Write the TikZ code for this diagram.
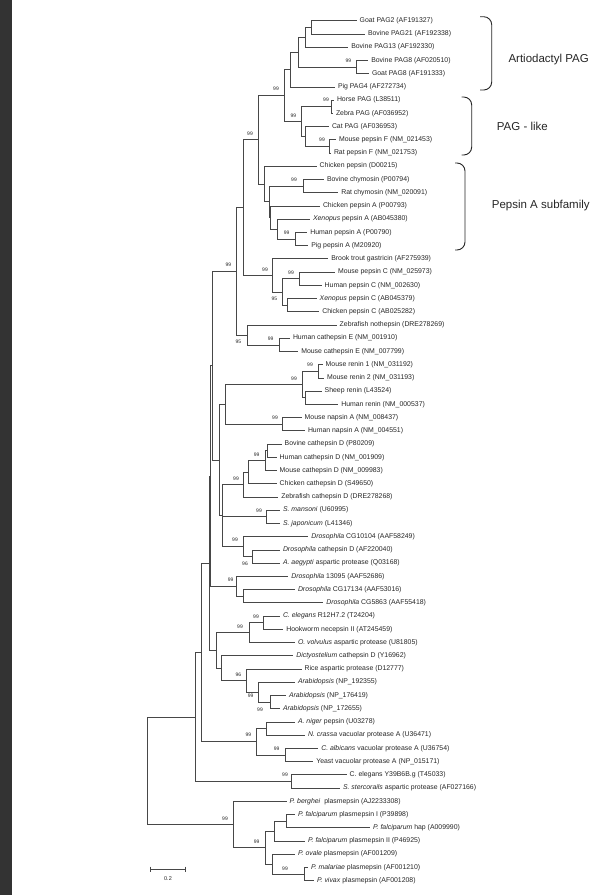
\documentclass[tikz,border=0pt]{standalone}
\usepackage{fontspec}
\setmainfont{Liberation Sans}

\tikzset{
  leaf/.style={anchor=west, inner xsep=2.8pt, inner ysep=0pt, font=\fontsize{6.9}{8}\selectfont, text=black!85},
  boot/.style={inner sep=0pt, font=\fontsize{5}{5.5}\selectfont, text=black!85},
  clade/.style={anchor=west, inner sep=0pt, font=\fontsize{11.5}{13}\selectfont, text=black!85},
  branch/.style={line width=0.8pt, draw=black!72},
  bracket/.style={line width=0.9pt, draw=black!85, rounded corners=8pt},
}

\begin{document}
\begin{tikzpicture}[x=1pt, y=-1pt]
\useasboundingbox (0,0) rectangle (603,895);
\fill[black!80] (0,0) rectangle (12,895);

\node[leaf] (gpag2) at (356.7,20.7) {Goat PAG2 (AF191327)};
\node[leaf] (bpag21) at (365,33.9) {Bovine PAG21 (AF192338)};
\node[leaf] (bpag13) at (348.3,47.2) {Bovine PAG13 (AF192330)};
\node[leaf] (bpag8) at (368.3,60.4) {Bovine PAG8 (AF020510)};
\node[leaf] (gpag8) at (369,73.6) {Goat PAG8 (AF191333)};
\node[leaf] (ppag4) at (335,86.9) {Pig PAG4 (AF272734)};
\node[leaf] (hpag) at (334,100.1) {Horse PAG (L38511)};
\node[leaf] (zpag) at (333,113.3) {Zebra PAG (AF036952)};
\node[leaf] (cpag) at (329,126.5) {Cat PAG (AF036953)};
\node[leaf] (mpepf) at (336,139.8) {Mouse pepsin F (NM\_021453)};
\node[leaf] (rpepf) at (331,153.0) {Rat pepsin F (NM\_021753)};
\node[leaf] (cpep) at (316.7,166.2) {Chicken pepsin (D00215)};
\node[leaf] (bchym) at (324,179.5) {Bovine chymosin (P00794)};
\node[leaf] (rchym) at (338.3,192.7) {Rat chymosin (NM\_020091)};
\node[leaf] (cpepa) at (320,205.9) {Chicken pepsin A (P00793)};
\node[leaf] (xpepa) at (310,219.2) {\textit{Xenopus} pepsin A (AB045380)};
\node[leaf] (hpepa) at (307.3,232.4) {Human pepsin A (P00790)};
\node[leaf] (ppepa) at (308.3,245.6) {Pig pepsin A (M20920)};
\node[leaf] (btgas) at (328.3,258.8) {Brook trout gastricin (AF275939)};
\node[leaf] (mpepc) at (335,272.1) {Mouse pepsin C (NM\_025973)};
\node[leaf] (hpepc) at (321.7,285.3) {Human pepsin C (NM\_002630)};
\node[leaf] (xpepc) at (316.7,298.5) {\textit{Xenopus} pepsin C (AB045379)};
\node[leaf] (cpepc) at (319.3,311.8) {Chicken pepsin C (AB025282)};
\node[leaf] (znoth) at (336.7,325.0) {Zebrafish nothepsin (DRE278269)};
\node[leaf] (hcate) at (290,338.2) {Human cathepsin E (NM\_001910)};
\node[leaf] (mcate) at (298.3,351.5) {Mouse cathepsin E (NM\_007799)};
\node[leaf] (mren1) at (322.7,364.7) {Mouse renin 1 (NM\_031192)};
\node[leaf] (mren2) at (324,377.9) {Mouse renin 2 (NM\_031193)};
\node[leaf] (sren) at (321.7,391.1) {Sheep renin (L43524)};
\node[leaf] (hren) at (338.3,404.4) {Human renin (NM\_000537)};
\node[leaf] (mnap) at (301.7,417.6) {Mouse napsin A (NM\_008437)};
\node[leaf] (hnap) at (305,430.8) {Human napsin A (NM\_004551)};
\node[leaf] (bcatd) at (281.7,444.1) {Bovine cathepsin D (P80209)};
\node[leaf] (hcatd) at (276.7,457.3) {Human cathepsin D (NM\_001909)};
\node[leaf] (mcatd) at (276.7,470.5) {Mouse cathepsin D (NM\_009983)};
\node[leaf] (ccatd) at (276.7,483.8) {Chicken cathepsin D (S49650)};
\node[leaf] (zcatd) at (278.3,497.0) {Zebrafish cathepsin D (DRE278268)};
\node[leaf] (sman) at (280,510.2) {\textit{S. mansoni} (U60995)};
\node[leaf] (sjap) at (280,523.4) {\textit{S. japonicum} (L41346)};
\node[leaf] (dcga) at (308.3,536.7) {\textit{Drosophila} CG10104 (AAF58249)};
\node[leaf] (dcatd) at (280,549.9) {\textit{Drosophila} cathepsin D (AF220040)};
\node[leaf] (aaeg) at (280,563.1) {\textit{A. aegypti} aspartic protease (Q03168)};
\node[leaf] (d13095) at (288.3,576.4) {\textit{Drosophila} 13095 (AAF52686)};
\node[leaf] (dcgb) at (295,589.6) {\textit{Drosophila} CG17134 (AAF53016)};
\node[leaf] (dcgc) at (323.3,602.8) {\textit{Drosophila} CG5863 (AAF55418)};
\node[leaf] (celr) at (280,616.1) {\textit{C. elegans} R12H7.2 (T24204)};
\node[leaf] (hookw) at (283.3,629.3) {Hookworm necepsin II (AT245459)};
\node[leaf] (ovolv) at (295,642.5) {\textit{O. volvulus} aspartic protease (U81805)};
\node[leaf] (dicty) at (293.3,655.7) {\textit{Dictyostelium} cathepsin D (Y16962)};
\node[leaf] (rice) at (301.7,669.0) {Rice aspartic protease (D12777)};
\node[leaf] (arab1) at (295,682.2) {\textit{Arabidopsis} (NP\_192355)};
\node[leaf] (arab2) at (286,695.4) {\textit{Arabidopsis} (NP\_176419)};
\node[leaf] (arab3) at (280,708.7) {\textit{Arabidopsis} (NP\_172655)};
\node[leaf] (aniger) at (295,721.9) {\textit{A. niger} pepsin (U03278)};
\node[leaf] (ncras) at (305,735.1) {\textit{N. crassa} vacuolar protease A (U36471)};
\node[leaf] (calb) at (318.3,748.4) {\textit{C. albicans} vacuolar protease A (U36754)};
\node[leaf] (yeast) at (313.3,761.6) {Yeast vacuolar protease A (NP\_015171)};
\node[leaf] (cely) at (346.7,774.8) {C. elegans Y39B6B.g (T45033)};
\node[leaf] (sster) at (340,788.0) {\textit{S. stercorails} aspartic protease (AF027166)};
\node[leaf] (pberg) at (286.7,801.3) {\textit{P. berghei}\ \ plasmepsin (AJ2233308)};
\node[leaf] (pfal1) at (295,814.5) {\textit{P. falciparum} plasmepsin I (P39898)};
\node[leaf] (pfhap) at (370,827.7) {\textit{P. falciparum} hap (A009990)};
\node[leaf] (pfal2) at (305,841.0) {\textit{P. falciparum} plasmepsin II (P46925)};
\node[leaf] (povale) at (295,854.2) {\textit{P. ovale} plasmepsin (AF001209)};
\node[leaf] (pmal) at (308,867.4) {\textit{P. malariae} plasmepsin (AF001210)};
\node[leaf] (pviv) at (314,880.7) {\textit{P. vivax} plasmepsin (AF001208)};

\coordinate (a1) at (311.7,27.3);
\coordinate (a2) at (305,37.3);
\coordinate (a3) at (356.7,67.0);
\coordinate (a4) at (298.3,52.1);
\coordinate (a5) at (290,69.5);
\coordinate (p1) at (331,106.7);
\coordinate (p2) at (329.5,146.4);
\coordinate (p3) at (305.7,136.5);
\coordinate (p4) at (301.7,121.6);
\coordinate (p5) at (284,95.6);
\coordinate (s1) at (303.3,186.1);
\coordinate (s2) at (295,239.0);
\coordinate (s3) at (277.3,229.1);
\coordinate (s4) at (270,217.5);
\coordinate (s5) at (269,201.8);
\coordinate (s6) at (264,184.0);
\coordinate (s7) at (258.3,139.8);
\coordinate (c1) at (299,278.7);
\coordinate (c2) at (287.3,305.2);
\coordinate (c3) at (282.3,291.9);
\coordinate (c4) at (272.3,275.4);
\coordinate (c5) at (243.3,207.6);
\coordinate (e1) at (279,344.9);
\coordinate (e2) at (247.3,334.9);
\coordinate (e3) at (236.7,271.3);
\coordinate (r1) at (318.3,371.3);
\coordinate (r2) at (305.7,397.8);
\coordinate (r3) at (302.7,384.5);
\coordinate (r4) at (282.2,424.2);
\coordinate (r5) at (225,404.4);
\coordinate (d1) at (267.3,450.7);
\coordinate (d2) at (265,460.6);
\coordinate (d3) at (248.3,472.2);
\coordinate (d4) at (243.3,484.6);
\coordinate (d5) at (266.7,516.8);
\coordinate (d6) at (252.7,556.5);
\coordinate (d7) at (243.3,546.6);
\coordinate (d8) at (222.7,515.6);
\coordinate (r6) at (219.3,460.0);
\coordinate (e4) at (212.3,365.6);
\coordinate (f1) at (243.3,596.2);
\coordinate (f2) at (236.7,586.3);
\coordinate (e5) at (210.7,476.0);
\coordinate (g1) at (263.3,622.7);
\coordinate (g2) at (249.3,632.6);
\coordinate (h1) at (270,702.1);
\coordinate (h2) at (258.3,692.1);
\coordinate (h3) at (246.7,680.6);
\coordinate (h4) at (221.7,668.2);
\coordinate (h5) at (216.7,650.4);
\coordinate (e6) at (209,563.2);
\coordinate (k1) at (266.7,728.5);
\coordinate (k2) at (285,755.0);
\coordinate (k3) at (256.7,741.8);
\coordinate (e7) at (201,652.5);
\coordinate (m1) at (291.7,781.4);
\coordinate (e8) at (195,717.0);
\coordinate (q1) at (286,821.1);
\coordinate (q2) at (274,831.0);
\coordinate (q3) at (304,874.0);
\coordinate (q4) at (272.7,864.1);
\coordinate (q5) at (265,847.6);
\coordinate (q6) at (233.3,824.4);
\coordinate (root) at (147.7,770.7);

\foreach \p/\c in {a1/gpag2, a1/bpag21, a2/a1, a2/bpag13, a3/bpag8, a3/gpag8,
  a4/a2, a4/a3, a5/a4, a5/ppag4, p1/hpag, p1/zpag, p2/mpepf, p2/rpepf,
  p3/cpag, p3/p2, p4/p1, p4/p3, p5/a5, p5/p4,
  s1/bchym, s1/rchym, s2/hpepa, s2/ppepa, s3/xpepa, s3/s2, s4/cpepa, s4/s3,
  s5/s1, s5/s4, s6/cpep, s6/s5, s7/p5, s7/s6,
  c1/mpepc, c1/hpepc, c2/xpepc, c2/cpepc, c3/c1, c3/c2, c4/btgas, c4/c3, c5/s7, c5/c4,
  e1/hcate, e1/mcate, e2/znoth, e2/e1, e3/c5, e3/e2,
  r1/mren1, r1/mren2, r2/sren, r2/hren, r3/r1, r3/r2, r4/mnap, r4/hnap, r5/r3, r5/r4,
  d1/bcatd, d1/hcatd, d2/d1, d2/mcatd, d3/d2, d3/ccatd, d4/d3, d4/zcatd,
  d5/sman, d5/sjap, d6/dcatd, d6/aaeg, d7/dcga, d7/d6, d8/d4, d8/d5, d8/d7,
  r6/r5, r6/d8, e4/e3, e4/r6, f1/dcgb, f1/dcgc, f2/d13095, f2/f1, e5/e4, e5/f2,
  g1/celr, g1/hookw, g2/g1, g2/ovolv, h1/arab2, h1/arab3, h2/arab1, h2/h1,
  h3/rice, h3/h2, h4/dicty, h4/h3, h5/g2, h5/h4, e6/e5, e6/h5,
  k1/aniger, k1/ncras, k2/calb, k2/yeast, k3/k1, k3/k2, e7/e6, e7/k3,
  m1/cely, m1/sster, e8/e7, e8/m1,
  q1/pfal1, q1/pfhap, q2/q1, q2/pfal2, q3/pmal, q3/pviv, q4/povale, q4/q3,
  q5/q2, q5/q4, q6/pberg, q6/q5, root/e8, root/q6}
  \draw[branch] (\p) |- (\c);

\foreach \x/\y/\v [count=\i] in {348.3/60.7/99, 276/89/99, 326/99.5/99, 293.3/115.5/99,
  322/140/99, 250/133.3/99, 294/180/99, 286.7/232.3/99, 228.3/264.3/99, 265/269.3/99,
  291/272.3/99, 274.3/299/95, 238.3/341.7/95, 270.7/338.3/99, 310/365/99, 294/378.3/99,
  275/417.7/99, 256.7/454.5/99, 236/478.3/99, 259/510.7/99, 235/540/99, 245/563.3/96,
  230.7/580/99, 256/616.7/99, 240/626.7/99, 238.3/674.3/96, 250.7/695.7/99, 260/709.3/99,
  248.3/735/99, 276.7/748.3/99, 285/775/99, 225/818.3/99, 256.7/841.7/99, 285/868.3/99}
  \node[boot] (bs\i) at (\x,\y) {\v};

\draw[bracket] (480,16.7) -- (491.7,16.7) -- (491.7,90) -- (480,90);
\draw[bracket] (461.7,97) -- (471.7,97) -- (471.7,155) -- (461.7,155);
\draw[bracket] (455,163) -- (465,163) -- (465,250) -- (455,250);
\node[clade] (artio) at (508.3,60) {Artiodactyl PAG};
\node[clade] (paglike) at (496.7,126.7) {PAG - like};
\node[clade] (pepsina) at (491.7,205.7) {Pepsin A subfamily};

\draw[branch] (150,866.5) -- (150,872) (150,869.3) -- (185,869.3) (185,866.5) -- (185,872);
\node[boot, font=\fontsize{5.5}{6}\selectfont] (scale) at (168,878.5) {0.2};
\end{tikzpicture}
\end{document}
